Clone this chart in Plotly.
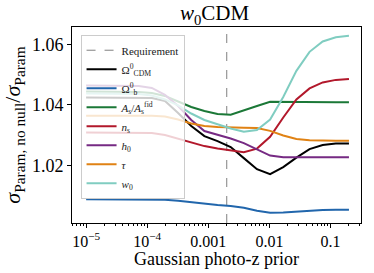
import plotly.graph_objects as go

# ---- data ----
photoz_prior = [1.0e-5, 1.641e-5, 2.692e-5, 4.417e-5, 7.248e-5, 1.189e-4, 1.951e-4,
                3.201e-4, 5.253e-4, 8.619e-4, 1.414e-3, 2.320e-3, 3.807e-3, 6.247e-3,
                1.025e-2, 1.682e-2, 2.760e-2, 4.529e-2, 7.431e-2, 0.1219, 0.2]

requirement = 0.002

omega_cdm = [1.04248, 1.04248, 1.04248, 1.04248, 1.04248, 1.04232, 1.04132, 1.03736,
             1.03306, 1.02975, 1.02810, 1.02612, 1.02248, 1.01884, 1.01719, 1.01950,
             1.02264, 1.02545, 1.02678, 1.02727, 1.02734]
omega_b = [1.00892, 1.00892, 1.00892, 1.00892, 1.00892, 1.00892, 1.00876, 1.00843,
           1.00793, 1.00734, 1.00701, 1.00668, 1.00611, 1.00512, 1.00446, 1.00453,
           1.00486, 1.00519, 1.00539, 1.00545, 1.00545]
a_s = [1.04446, 1.04446, 1.04446, 1.04446, 1.04430, 1.04397, 1.04298, 1.04116,
       1.03934, 1.03802, 1.03703, 1.03679, 1.03812, 1.03967, 1.04106, 1.04099,
       1.04089, 1.04089, 1.04089, 1.04089, 1.04089]
n_s = [1.03091, 1.03091, 1.03091, 1.03091, 1.03091, 1.03074, 1.03008, 1.02893,
       1.02760, 1.02645, 1.02562, 1.02503, 1.02446, 1.02562, 1.02952, 1.03587,
       1.04182, 1.04546, 1.04744, 1.04827, 1.04860]
h_0 = [1.04645, 1.04645, 1.04645, 1.04645, 1.04628, 1.04562, 1.04331, 1.03967,
       1.03504, 1.03141, 1.03025, 1.02893, 1.02744, 1.02529, 1.02331, 1.02281,
       1.02281, 1.02281, 1.02281, 1.02281, 1.02281]
tau = [1.03646, 1.03646, 1.03646, 1.03646, 1.03646, 1.03646, 1.03620, 1.03521,
       1.03389, 1.03306, 1.03273, 1.03250, 1.03246, 1.03240, 1.03147, 1.02992,
       1.02876, 1.02836, 1.02820, 1.02820, 1.02820]
w_0 = [1.04380, 1.04380, 1.04380, 1.04380, 1.04364, 1.04314, 1.04182, 1.03984,
       1.03719, 1.03504, 1.03355, 1.03223, 1.03117, 1.03174, 1.03521, 1.04265,
       1.05124, 1.05752, 1.06093, 1.06232, 1.06281]

series_names = ["Ω<sup>0</sup><sub>CDM</sub>", "Ω<sup>0</sup><sub>b</sub>",
                "<i>A</i><sub>s</sub>/<i>A</i><sub>s</sub><sup>fid</sup>",
                "<i>n</i><sub>s</sub>", "<i>h</i><sub>0</sub>", "<i>τ</i>",
                "<i>w</i><sub>0</sub>"]
series_values = [omega_cdm, omega_b, a_s, n_s, h_0, tau, w_0]
series_colors = ["#000000", "#2166ac", "#1b7837", "#b2182b", "#762a83", "#e08214", "#80cdc1"]

x_tickvals = [1e-5, 1e-4, 1e-3, 1e-2, 1e-1]
x_ticktext = ["10<sup>−5</sup>", "10<sup>−4</sup>", "0.001", "0.01", "0.1"]
y_tickvals = [1.02, 1.04, 1.06]
y_ticktext = ["1.02", "1.04", "1.06"]

Y_RANGE = [1.0011, 1.0657]
X_RANGE_LOG = [-5.231, -0.502]

minor_vals = [m * 10.0 ** e for e in range(-6, 0) for m in range(2, 10)]

FONT = "Liberation Serif"
PLOT_H = 273 - 27 - 50

fig = go.Figure()
fig.add_trace(go.Scatter(
    x=[requirement, requirement], y=Y_RANGE, mode="lines", name="Requirement",
    line=dict(color="#808080", width=1, dash="dash")))
for name, vals, col in zip(series_names, series_values, series_colors):
    fig.add_trace(go.Scatter(x=photoz_prior, y=vals, mode="lines", name=name,
                             line=dict(color=col, width=2)))

fig.update_layout(
    width=374, height=273,
    margin=dict(l=67, r=12, t=27, b=50),
    paper_bgcolor="white", plot_bgcolor="white",
    font=dict(family=FONT, size=17, color="black"),
    title=dict(text="<i>w</i><sub>0</sub>CDM", x=214.5 / 374, xanchor="center",
               y=1 - 13 / 273, yanchor="middle", yref="container",
               font=dict(family=FONT, size=21, color="black")),
    showlegend=True,
    legend=dict(x=0.0296, y=0.9606, xanchor="left", yanchor="top",
                bgcolor="rgba(255,255,255,0.8)", bordercolor="#cccccc", borderwidth=1,
                font=dict(family=FONT, size=11, color="#222"), tracegroupgap=0,
                itemwidth=30),
    annotations=[dict(text="Gaussian photo-z prior", xref="paper", yref="paper",
                      x=0.5, y=-(259 - 222.7) / PLOT_H, xanchor="center", yanchor="middle",
                      showarrow=False, font=dict(family=FONT, size=18, color="black"))],
)
fig.update_xaxes(
    type="log", range=X_RANGE_LOG,
    tickmode="array", tickvals=x_tickvals, ticktext=x_ticktext,
    ticks="outside", ticklen=4, tickwidth=1, tickcolor="black",
    minor=dict(tickmode="array", tickvals=minor_vals, ticks="outside", ticklen=2,
               tickcolor="black", showgrid=False),
    showline=True, linecolor="black", linewidth=1, mirror=True,
    showgrid=False, zeroline=False,
    tickfont=dict(family=FONT, size=16),
)
fig.update_yaxes(
    range=Y_RANGE, tickmode="array", tickvals=y_tickvals, ticktext=y_ticktext,
    ticks="outside", ticklen=4, tickwidth=1, tickcolor="black",
    showline=True, linecolor="black", linewidth=1, mirror=True,
    showgrid=False, zeroline=False,
    tickfont=dict(family=FONT, size=18),
    title=dict(text="<i>σ</i><sub>Param, no null</sub>/<i>σ</i><sub>Param</sub>",
               font=dict(family=FONT, size=22), standoff=5),
)

fig.write_html("out.html", config={"displayModeBar": False},
               post_script="document.body.style.margin='0';document.body.style.overflow='hidden';")
